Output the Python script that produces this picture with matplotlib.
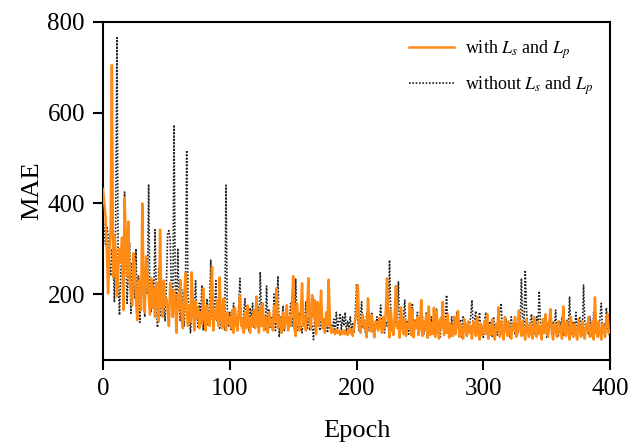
import numpy as np
import matplotlib.pyplot as plt

plt.rcParams['font.family'] = ['Liberation Serif', 'DejaVu Serif']
plt.rcParams['mathtext.fontset'] = 'stix'

# MAE per epoch
with_ls_lp = [
    432, 400, 372, 300, 202, 290, 345, 705, 237, 330,
    290, 195, 250, 300, 270, 325, 165, 412, 330, 240,
    360, 230, 205, 175, 290, 265, 190, 143, 230, 210,
    165, 400, 220, 160, 283, 240, 200, 155, 235, 170,
    215, 150, 225, 190, 140, 342, 180, 150, 230, 175,
    190, 165, 130, 225, 205, 150, 208, 180, 115, 200,
    170, 231, 150, 125, 195, 246, 160, 130, 175, 140,
    248, 165, 120, 185, 147, 170, 125, 160, 135, 213,
    150, 120, 175, 140, 130, 180, 260, 120, 165, 145,
    187, 130, 237, 150, 125, 190, 140, 120, 160, 135,
    150, 125, 165, 115, 170, 140, 120, 155, 198, 130,
    145, 115, 160, 125, 175, 135, 115, 150, 130, 165,
    125, 195, 140, 115, 170, 130, 180, 120, 150, 135,
    115, 160, 130, 145, 120, 175, 140, 213, 125, 150,
    130, 115, 160, 125, 140, 176, 120, 150, 130, 170,
    240, 125, 108, 180, 140, 120, 160, 224, 130, 150,
    120, 170, 235, 140, 125, 198, 150, 187, 112, 183,
    130, 150, 208, 125, 145, 115, 160, 130, 232, 140,
    115, 125, 118, 112, 122, 115, 120, 110, 118, 113,
    120, 112, 116, 110, 125, 114, 120, 108, 130, 145,
    160, 220, 130, 115, 140, 154, 125, 135, 105, 191,
    140, 118, 154, 125, 105, 140, 130, 120, 147, 135,
    115, 150, 125, 160, 235, 140, 105, 165, 130, 110,
    150, 218, 125, 140, 104, 171, 130, 112, 145, 108,
    135, 125, 180, 110, 167, 105, 140, 125, 150, 110,
    130, 187, 108, 140, 120, 155, 104, 173, 110, 135,
    112, 170, 106, 164, 130, 102, 145, 125, 183, 110,
    140, 115, 155, 104, 135, 125, 108, 150, 112, 140,
    163, 106, 135, 115, 102, 145, 125, 108, 140, 115,
    130, 102, 140, 125, 108, 150, 115, 100, 135, 110,
    125, 140, 112, 156, 102, 130, 110, 145, 115, 100,
    135, 120, 171, 106, 140, 115, 100, 150, 125, 108,
    140, 115, 102, 135, 120, 150, 106, 115, 164, 125,
    108, 140, 115, 100, 145, 120, 106, 135, 115, 102,
    150, 120, 106, 140, 112, 130, 100, 145, 115, 156,
    120, 106, 140, 167, 115, 100, 135, 120, 106, 140,
    115, 130, 102, 173, 120, 108, 140, 115, 100, 150,
    120, 106, 135, 115, 100, 145, 120, 106, 140, 112,
    102, 135, 120, 150, 106, 115, 140, 100, 193, 120,
    106, 140, 115, 100, 135, 120, 106, 145, 156, 115,
]

without_ls_lp = [
    370, 340, 310, 350, 330, 275, 240, 300, 265, 182,
    350, 765, 230, 154, 250, 290, 200, 425, 280, 180,
    250, 312, 158, 270, 220, 190, 300, 175, 240, 138,
    220, 260, 180, 150, 280, 200, 442, 190, 160, 230,
    180, 342, 200, 127, 260, 190, 150, 230, 175, 140,
    220, 335, 340, 320, 200, 150, 573, 220, 170, 301,
    180, 140, 210, 165, 130, 190, 517, 200, 160, 115,
    170, 150, 140, 230, 160, 125, 180, 150, 220, 120,
    160, 140, 190, 130, 175, 275, 150, 125, 165, 230,
    140, 175, 125, 160, 135, 150, 120, 440, 170, 130,
    160, 120, 150, 180, 130, 145, 120, 170, 235, 140,
    125, 160, 190, 130, 150, 120, 170, 140, 180, 125,
    150, 135, 175, 120, 249, 160, 130, 145, 120, 218,
    140, 165, 125, 150, 130, 200, 120, 160, 240, 105,
    150, 130, 175, 120, 145, 160, 125, 140, 180, 130,
    150, 125, 233, 140, 120, 160, 130, 115, 150, 135,
    183, 125, 150, 120, 140, 130, 100, 150, 125, 140,
    160, 120, 150, 130, 145, 125, 158, 115, 140, 125,
    135, 120, 145, 115, 160, 125, 140, 158, 120, 150,
    130, 160, 115, 140, 125, 150, 120, 135, 115, 160,
    222, 140, 120, 150, 183, 125, 140, 115, 160, 130,
    120, 145, 160, 115, 135, 125, 150, 120, 140, 176,
    125, 150, 115, 140, 130, 165, 275, 150, 120, 140,
    130, 150, 160, 227, 105, 140, 125, 150, 187, 120,
    140, 112, 160, 130, 180, 115, 145, 125, 160, 110,
    140, 130, 150, 112, 135, 160, 115, 140, 125, 150,
    110, 135, 125, 167, 115, 140, 106, 150, 125, 135,
    145, 198, 115, 135, 105, 150, 125, 140, 110, 160,
    130, 115, 145, 105, 150, 125, 135, 110, 140, 130,
    150, 187, 125, 140, 163, 110, 135, 160, 115, 130,
    105, 145, 160, 125, 110, 140, 130, 105, 150, 125,
    135, 110, 140, 160, 180, 125, 105, 135, 145, 115,
    130, 105, 150, 125, 140, 110, 135, 115, 160, 130,
    235, 145, 115, 253, 165, 130, 105, 140, 156, 115,
    135, 110, 150, 125, 207, 140, 110, 130, 115, 145,
    105, 135, 125, 150, 110, 140, 125, 165, 115, 105,
    140, 125, 150, 110, 135, 115, 145, 125, 195, 110,
    130, 140, 115, 160, 105, 135, 150, 125, 110, 220,
    140, 115, 135, 110, 150, 125, 105, 160, 115, 140,
    125, 110, 150, 180, 115, 135, 105, 170, 125, 110,
]

epochs = np.arange(len(with_ls_lp))

fig = plt.figure(figsize=(6.3, 4.45), dpi=100)
ax = fig.add_axes([0.1635, 0.191, 0.805, 0.76])

ax.plot(epochs, with_ls_lp, color='#FF8A14', lw=1.8,
        label=r'with $L_s$ and $L_p$', zorder=3)
ax.plot(epochs, without_ls_lp, color='#222222', lw=1.2, ls=(0, (1, 1)),
        label=r'without $L_s$ and $L_p$', zorder=2)

ax.set_xlim(0, 400)
ax.set_ylim(55, 800)
ax.set_xticks([0, 100, 200, 300, 400])
ax.set_yticks([200, 400, 600, 800])
ax.tick_params(direction='out', length=7, width=1.5, labelsize=18, pad=6)
for s in ax.spines.values():
    s.set_linewidth(1.5)

ax.set_xlabel('Epoch', fontsize=19, labelpad=14)
ax.set_ylabel('MAE', fontsize=19, labelpad=3)

ax.legend(loc='upper right', frameon=False, fontsize=13,
          handlelength=2.5, handletextpad=0.6, labelspacing=0.75,
          bbox_to_anchor=(0.998, 1.0))

fig.savefig('out.png', dpi=100)
